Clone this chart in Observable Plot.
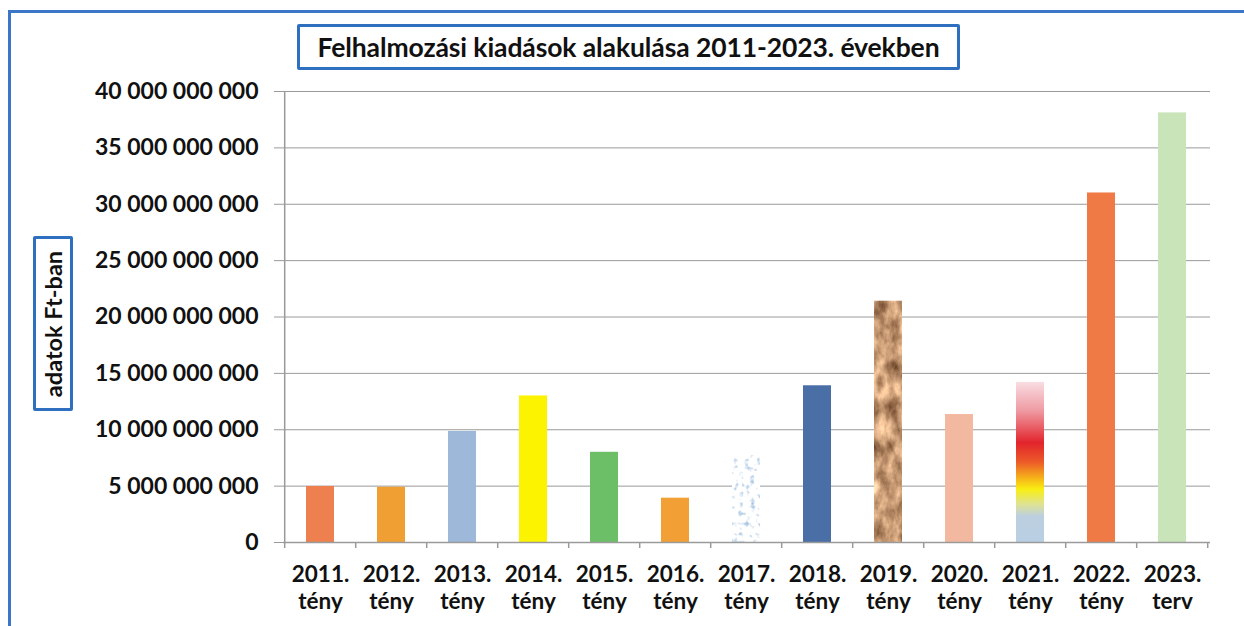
<!DOCTYPE html>
<html><head><meta charset="utf-8">
<script src="https://cdn.jsdelivr.net/npm/d3@7"></script>
<script src="https://cdn.jsdelivr.net/npm/@observablehq/plot@0.6"></script>
<style>
body{margin:0;background:#fff;font-family:Lato,"Open Sans",sans-serif;}
#wrap{position:relative;width:1244px;height:626px;overflow:hidden;}
#frameL{position:absolute;left:8px;top:10px;width:3px;height:640px;background:#3b77c6;}
#frameT{position:absolute;left:8px;top:10px;width:1236px;height:3px;background:#3b77c6;}
#title{position:absolute;left:297px;top:24px;width:657px;height:40px;border:3px solid #2f6fc0;border-radius:2px;
 font-weight:700;font-size:26.5px;line-height:40px;text-align:center;color:#111;letter-spacing:-0.1px;}
#ylab{position:absolute;left:33px;top:236px;width:34px;height:169px;border:3px solid #2f6fc0;border-radius:2px;}
#ylab span{position:absolute;left:50%;top:50%;transform:translate(-50%,-50%) rotate(-90deg);white-space:nowrap;font-weight:700;font-size:23.5px;color:#111;}
#chart{position:absolute;left:0;top:0;}
</style></head>
<body>
<div id="wrap">
<div id="chart"></div>
<div id="frameL"></div><div id="frameT"></div>
<div id="title">Felhalmozási kiadások alakulása 2011-2023. években</div>
<div id="ylab"><span>adatok Ft-ban</span></div>
</div>
<script>
const years = ["2011.","2012.","2013.","2014.","2015.","2016.","2017.","2018.","2019.","2020.","2021.","2022.","2023."];
const kinds = ["tény","tény","tény","tény","tény","tény","tény","tény","tény","tény","tény","tény","terv"];
const values = [4.97e9, 4.9e9, 9.85e9, 13.0e9, 8.0e9, 3.93e9, 7.7e9, 13.9e9, 21.4e9, 11.35e9, 14.2e9, 31.0e9, 38.1e9];
const colors = ["#ee7f4f","#f0a032","#9db8d9","#fbf300","#6dbf67","#f2a035","#e6edf5","#4a6ea6","#c49a78","#f3b9a0","#e33a3e","#ef7a45","#c8e4b8"];
const yTicks = [0,5e9,10e9,15e9,20e9,25e9,30e9,35e9,40e9];

const data = years.map((y,i)=>({label: y + "\n" + kinds[i], value: values[i], color: colors[i]}));
const labels = data.map(d=>d.label);
const fmt = d3.formatLocale({thousands:" ", grouping:[3], decimal:",", currency:["",""]}).format(",.0f");

const plot = Plot.plot({
  width: 1244, height: 626,
  marginLeft: 283, marginRight: 34, marginTop: 91, marginBottom: 84,
  style: {fontFamily: "Lato, 'Open Sans', sans-serif", background: "transparent", overflow: "visible"},
  x: {domain: labels, paddingInner: 0.6, paddingOuter: 0.3, label: null},
  y: {domain: [0, 40e9], ticks: yTicks, label: null},
  marks: [
    Plot.gridY(yTicks, {stroke: "#9a9a9a", strokeOpacity: 1, strokeWidth: 1}),
    Plot.barY(data, {x: "label", y: "value", fill: "color"}),
    Plot.ruleY([0], {stroke: "#9a9a9a", strokeWidth: 1.5}),
    Plot.axisY(yTicks, {tickFormat: fmt, tickSize: 9, tickPadding: 16, stroke: "#9a9a9a", fontSize: 23, fontWeight: 700, fill: "#111", label: null}),
    Plot.axisX({tickSize: 0, tickPadding: 21, fontSize: 22.5, fontWeight: 700, fill: "#111", lineHeight: 1.18, label: null})
  ]
});
document.getElementById("chart").appendChild(plot);

// decorations: left axis line, category boundary ticks, textures
const svg = d3.select(plot);
const xs = plot.scale("x"), ys = plot.scale("y");
const y0 = ys.apply(0), y40 = ys.apply(40e9);
const step = xs.step;
const left = xs.apply(labels[0]) - xs.paddingOuter * step;
const g = svg.append("g").attr("stroke", "#9a9a9a").attr("stroke-width", 1.5);
g.append("line").attr("x1", left).attr("x2", left).attr("y1", y40).attr("y2", y0);
for (let i = 0; i <= labels.length; i++) {
  const x = left + i * step;
  g.append("line").attr("x1", x).attr("x2", x).attr("y1", y0).attr("y2", y0 + 6);
}

const defs = svg.insert("defs", ":first-child");
defs.html(`
<linearGradient id="g2021" x1="0" y1="0" x2="0" y2="1">
  <stop offset="0" stop-color="#f8dde2"/>
  <stop offset="0.18" stop-color="#ef9aa2"/>
  <stop offset="0.38" stop-color="#e2242c"/>
  <stop offset="0.5" stop-color="#ec5a28"/>
  <stop offset="0.6" stop-color="#f6b21a"/>
  <stop offset="0.67" stop-color="#f8ee12"/>
  <stop offset="0.76" stop-color="#dfe38e"/>
  <stop offset="0.84" stop-color="#bccfe0"/>
  <stop offset="1" stop-color="#b9cfe3"/>
</linearGradient>
<filter id="crumple" x="0" y="0" width="1" height="1" color-interpolation-filters="sRGB">
  <feTurbulence type="fractalNoise" baseFrequency="0.09 0.05" numOctaves="4" seed="7" result="n"/>
  <feColorMatrix in="n" type="matrix" values="0.9 0 0 0 0.33  0.85 0 0 0 0.18  0.75 0 0 0 0.08  0 0 0 0 1" result="c"/>
  <feComposite in="c" in2="SourceGraphic" operator="in"/>
</filter>
<filter id="speckle" x="0" y="0" width="1" height="1" color-interpolation-filters="sRGB">
  <feTurbulence type="fractalNoise" baseFrequency="0.18" numOctaves="2" seed="3" result="n"/>
  <feColorMatrix in="n" type="matrix" values="-1.2 0 0 0 1.66  -0.8 0 0 0 1.44  -0.4 0 0 0 1.22  0 0 0 0 1" result="c"/>
  <feComposite in="c" in2="SourceGraphic" operator="in"/>
</filter>`);
const rects = svg.selectAll('g[aria-label="bar"] rect').nodes();
rects.forEach((r, i) => {
  const lab = labels[i];
  if (lab.startsWith("2021")) r.setAttribute("fill", "url(#g2021)");
  if (lab.startsWith("2019")) r.setAttribute("filter", "url(#crumple)");
  if (lab.startsWith("2017")) r.setAttribute("filter", "url(#speckle)");
});
</script>
</body></html>
